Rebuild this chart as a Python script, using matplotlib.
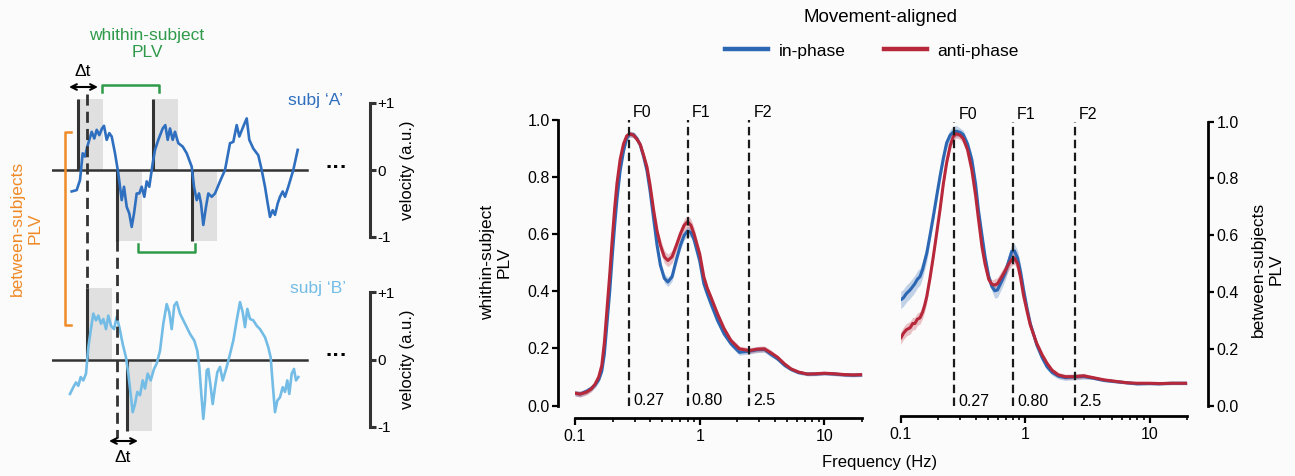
import numpy as np
import matplotlib
matplotlib.use('Agg')
import matplotlib.pyplot as plt
from matplotlib.patches import Rectangle
from matplotlib.lines import Line2D
from matplotlib.ticker import FixedLocator, NullFormatter

plt.rcParams['font.family'] = ['Liberation Sans', 'DejaVu Sans']

W, H, DPI = 1295, 476, 100

# ------------------------------------------------------------------ data
freq_within = [0.100, 0.110, 0.124, 0.135, 0.145, 0.155, 0.164, 0.172, 0.180, 0.190,
               0.198, 0.208, 0.217, 0.230, 0.245, 0.260, 0.275, 0.295, 0.315, 0.334,
               0.355, 0.378, 0.400, 0.428, 0.455, 0.484, 0.520, 0.555, 0.600, 0.650,
               0.700, 0.750, 0.800, 0.850, 0.900, 1.00, 1.08, 1.15, 1.23, 1.39,
               1.57, 1.78, 2.08, 2.50, 2.90, 3.30, 3.70, 4.20, 4.80, 5.40, 6.20,
               7.30, 8.50, 10.0, 12.0, 14.6, 17.0, 20.0]
within_anti = [0.043, 0.040, 0.047, 0.058, 0.075, 0.100, 0.140, 0.220, 0.330, 0.460,
               0.570, 0.690, 0.776, 0.860, 0.915, 0.943, 0.950, 0.945, 0.930, 0.912,
               0.875, 0.833, 0.770, 0.680, 0.610, 0.560, 0.520, 0.507, 0.520, 0.560,
               0.600, 0.630, 0.643, 0.630, 0.600, 0.530, 0.449, 0.410, 0.379, 0.320,
               0.268, 0.227, 0.198, 0.192, 0.197, 0.198, 0.185, 0.169, 0.145, 0.128, 0.117,
               0.110, 0.111, 0.113, 0.111, 0.108, 0.107, 0.108]
within_in = [0.043, 0.040, 0.050, 0.060, 0.072, 0.090, 0.120, 0.180, 0.280, 0.400,
             0.510, 0.630, 0.720, 0.820, 0.890, 0.935, 0.948, 0.947, 0.932, 0.910,
             0.870, 0.820, 0.750, 0.650, 0.560, 0.490, 0.445, 0.432, 0.450, 0.510,
             0.560, 0.595, 0.610, 0.605, 0.580, 0.505, 0.425, 0.390, 0.356, 0.297,
             0.250, 0.216, 0.186, 0.190, 0.195, 0.196, 0.180, 0.163, 0.140, 0.126, 0.115,
             0.110, 0.110, 0.112, 0.110, 0.107, 0.106, 0.107]
sem_within_anti = [0.010] * 25 + [0.022] * 10 + [0.010] * 12 + [0.006] * 11
sem_within_in = [0.010] * 25 + [0.016] * 10 + [0.010] * 12 + [0.006] * 11

freq_between = [0.100, 0.105, 0.111, 0.119, 0.125, 0.130, 0.136, 0.143, 0.150, 0.156,
                0.162, 0.172, 0.183, 0.195, 0.207, 0.220, 0.234, 0.250, 0.265, 0.280,
                0.300, 0.318, 0.345, 0.373, 0.400, 0.421, 0.450, 0.476, 0.510, 0.540,
                0.570, 0.600, 0.650, 0.690, 0.740, 0.780, 0.820, 0.870, 0.920, 0.970,
                1.04, 1.10, 1.24, 1.37, 1.50, 1.65, 1.85, 2.10, 2.45, 2.95,
                3.50, 4.30, 5.50, 6.50, 7.90, 10.0, 12.0, 15.0, 20.0]
between_in = [0.373, 0.380, 0.395, 0.408, 0.420, 0.430, 0.445, 0.455, 0.480, 0.510,
              0.537, 0.600, 0.667, 0.740, 0.807, 0.870, 0.925, 0.952, 0.963, 0.966,
              0.962, 0.954, 0.920, 0.866, 0.780, 0.690, 0.600, 0.526, 0.455, 0.420,
              0.405, 0.408, 0.440, 0.467, 0.510, 0.543, 0.545, 0.520, 0.470, 0.410,
              0.340, 0.290, 0.215, 0.170, 0.138, 0.118, 0.105, 0.100, 0.102, 0.104,
              0.098, 0.090, 0.085, 0.082, 0.078, 0.079, 0.078, 0.080, 0.080]
between_anti = [0.238, 0.255, 0.268, 0.275, 0.290, 0.290, 0.305, 0.310, 0.330, 0.355,
                0.385, 0.450, 0.526, 0.610, 0.690, 0.780, 0.855, 0.915, 0.948, 0.957,
                0.952, 0.940, 0.900, 0.830, 0.740, 0.660, 0.560, 0.500, 0.445, 0.428,
                0.425, 0.430, 0.455, 0.475, 0.500, 0.515, 0.520, 0.500, 0.450, 0.390,
                0.330, 0.285, 0.220, 0.180, 0.150, 0.125, 0.109, 0.103, 0.103, 0.106,
                0.100, 0.092, 0.086, 0.082, 0.080, 0.080, 0.079, 0.080, 0.080]
sem_between_in = [0.030] * 11 + [0.020] * 9 + [0.015] * 10 + [0.026] * 10 + [0.010] * 10 + [0.005] * 9
sem_between_anti = [0.022] * 11 + [0.015] * 9 + [0.015] * 10 + [0.022] * 10 + [0.009] * 10 + [0.005] * 9

marker_hz = [0.27, 0.80, 2.5]
marker_names = ['F0', 'F1', 'F2']
marker_values = ['0.27', '0.80', '2.5']

y_ticks = [0.0, 0.2, 0.4, 0.6, 0.8, 1.0]
x_major = [0.1, 1, 10]
x_major_labels = ['0.1', '1', '10']
x_minor = [0.2, 0.3, 0.4, 0.5, 0.6, 0.7, 0.8, 0.9, 2, 3, 4, 5, 6, 7, 8, 9, 20]

# schematic velocity traces (arbitrary time units, normalised velocity)
tA = [71.7, 76.7, 80.0, 82.7, 85.0, 87.3, 91.7, 94.3, 96.7, 99.3, 102.0, 104.0, 106.7,
      109.3, 111.7, 115.0, 118.3, 121.7, 124.0, 126.7, 129.3, 131.7, 134.0, 136.7, 139.3,
      141.7, 144.3, 146.7, 149.3, 152.7, 155.0, 158.3, 162.7, 165.3, 167.7, 170.0, 172.7,
      175.0, 178.3, 182.7, 186.7, 191.7, 194.0, 196.7, 199.0, 201.0, 203.3, 206.0, 208.3,
      211.7, 215.0, 220.0, 225.0, 230.0, 233.3, 236.7, 239.3, 243.3, 246.7, 249.3, 253.3,
      258.3, 261.7, 265.0, 267.7, 270.0, 272.7, 275.0, 277.7, 280.0, 282.7, 285.0, 288.3,
      293.3, 297.7]
vA = [-0.32, -0.30, -0.15, 0.25, 0.20, 0.35, 0.57, 0.47, 0.60, 0.52, 0.62, 0.66, 0.45,
      0.55, 0.50, 0.25, -0.05, -0.45, -0.25, -0.55, -0.65, -0.85, -0.65, -0.35, -0.35,
      -0.25, -0.40, -0.17, -0.25, 0.10, 0.30, 0.45, 0.62, 0.67, 0.45, 0.62, 0.45,
      0.57, 0.40, 0.35, 0.25, 0.05, -0.25, -0.45, -0.35, -0.50, -0.82, -0.55, -0.35,
      -0.40, -0.35, -0.17, 0.00, 0.40, 0.42, 0.67, 0.50, 0.65, 0.77, 0.45, 0.32,
      0.22, 0.00, -0.25, -0.50, -0.70, -0.60, -0.67, -0.50, -0.40, -0.32, -0.40, -0.25,
      0.00, 0.30]
tB = [70.0, 73.3, 76.0, 78.3, 80.7, 83.3, 86.0, 88.3, 90.7, 93.3, 96.0, 98.3, 101.0,
      103.3, 106.0, 108.3, 111.0, 114.0, 116.7, 119.3, 122.7, 126.0, 128.3, 131.0, 132.7,
      135.0, 137.3, 140.0, 142.7, 145.0, 147.7, 150.7, 154.0, 156.7, 160.0, 163.3, 166.7,
      169.3, 171.7, 174.3, 176.7, 180.0, 185.0, 190.0, 194.3, 197.3, 199.3, 201.3, 203.3,
      205.0, 206.7, 208.3, 210.7, 212.7, 215.0, 217.3, 220.0, 222.7, 226.7, 230.0, 233.3,
      236.7, 240.0, 242.7, 245.0, 247.3, 250.0, 253.3, 256.7, 260.0, 265.0, 268.3, 270.7,
      272.7, 275.0, 277.3, 280.0, 282.7, 285.0, 287.3, 289.3, 291.7, 294.0, 296.0, 298.3]
vB = [-0.51, -0.41, -0.34, -0.39, -0.26, -0.31, -0.21, 0.18, 0.43, 0.68, 0.58, 0.65, 0.53,
      0.60, 0.45, 0.65, 0.50, 0.45, 0.63, 0.48, 0.23, 0.03, -0.21, -0.56, -0.78,
      -0.66, -0.48, -0.53, -0.31, -0.43, -0.21, -0.31, -0.14, -0.06, 0.13, 0.53, 0.82,
      0.70, 0.45, 0.80, 0.85, 0.68, 0.53, 0.38, 0.28, 0.13, -0.11, -0.51, -0.88,
      -0.61, -0.16, -0.14, -0.41, -0.66, -0.41, -0.19, -0.11, -0.31, -0.11, 0.08, 0.28,
      0.58, 0.85, 0.70, 0.48, 0.75, 0.60, 0.58, 0.50, 0.45, 0.33, 0.18, 0.03,
      -0.36, -0.78, -0.61, -0.56, -0.41, -0.48, -0.31, -0.51, -0.21, -0.14, -0.31, -0.26]

epochs_A = [78.3, 116.7, 153.3, 191.7]
signs_A = [1, -1, 1, -1]
epochs_B = [87.3, 127.0]
signs_B = [1, -1]
epoch_len = 25.0
epoch_height = 1.06
baseline_t = [52, 307]

# ------------------------------------------------------------------ style
C_IN = '#2b67b3'
C_ANTI = '#b7283b'
C_A = '#2f6fbf'
C_B = '#72bce6'
C_GREEN = '#2f9a49'
C_ORANGE = '#ef8a27'
BG = '#fbfbfb'

fig = plt.figure(figsize=(W / DPI, H / DPI), dpi=DPI, facecolor=BG)


def rect(x0, y_top, x1, y_bot):
    return [x0 / W, 1 - y_bot / H, (x1 - x0) / W, (y_bot - y_top) / H]


def px2pt(p):
    return p * 72.0 / DPI


def style_spec(ax, side, yoff_px, xoff_px):
    ax.set_xscale('log')
    ax.set_xlim(0.1, 20)
    ax.set_ylim(0, 1)
    ax.patch.set_alpha(0)
    other = 'right' if side == 'left' else 'left'
    ax.spines['top'].set_visible(False)
    ax.spines[other].set_visible(False)
    ax.spines[side].set_position(('outward', px2pt(yoff_px)))
    ax.spines['bottom'].set_position(('outward', px2pt(xoff_px)))
    ax.spines[side].set_bounds(0, 1)
    ax.spines['bottom'].set_bounds(0.1, 20)
    for s in (side, 'bottom'):
        ax.spines[s].set_linewidth(2.0)
    ax.xaxis.set_major_locator(FixedLocator(x_major))
    ax.set_xticklabels(x_major_labels)
    ax.xaxis.set_minor_locator(FixedLocator(x_minor))
    ax.xaxis.set_minor_formatter(NullFormatter())
    ax.set_yticks(y_ticks)
    ax.set_yticklabels(['%.1f' % v for v in y_ticks])
    if side == 'right':
        ax.yaxis.tick_right()
        ax.yaxis.set_label_position('right')
    ax.tick_params(axis='x', which='major', length=5, width=1.6, labelsize=11.5, pad=3)
    ax.tick_params(axis='x', which='minor', length=3, width=1.2)
    ax.tick_params(axis='y', length=4, width=1.6, labelsize=11.5, pad=2)


def draw_spec(ax, f, v_in, v_anti, s_in, s_anti):
    f = np.asarray(f)
    for v, s, c in ((v_in, s_in, C_IN), (v_anti, s_anti, C_ANTI)):
        v = np.asarray(v)
        s = np.asarray(s)
        ax.fill_between(f, v - s, v + s, color=c, alpha=0.28, lw=0, zorder=2)
        ax.plot(f, v, color=c, lw=2.2, zorder=3, solid_capstyle='round')
    for hz, nm, val in zip(marker_hz, marker_names, marker_values):
        ax.axvline(hz, ymin=0, ymax=1, color='#1a1a1a', lw=1.6,
                   ls=(0, (3.8, 2.0)), zorder=4)
        ax.annotate(nm, xy=(hz, 1.0), xytext=(3, 5), textcoords='offset points',
                    ha='left', va='center', fontsize=11.5, annotation_clip=False)
        ax.annotate(val, xy=(hz, 0.0), xytext=(3, 3.5), textcoords='offset points',
                    ha='left', va='center', fontsize=11.5, annotation_clip=False)


ax1 = fig.add_axes(rect(575, 119.5, 862, 405.5))
style_spec(ax1, 'left', 17, 12)
draw_spec(ax1, freq_within, within_in, within_anti, sem_within_in, sem_within_anti)
ax1.set_ylabel('whithin-subject\nPLV', fontsize=12.5, linespacing=1.15)
ax1.yaxis.set_label_coords(-0.22, 0.5)

ax2 = fig.add_axes(rect(900.7, 121.5, 1187, 406))
style_spec(ax2, 'right', 21, 10)
draw_spec(ax2, freq_between, between_in, between_anti, sem_between_in, sem_between_anti)
ax2.set_ylabel('between-subjects\nPLV', fontsize=12.5, linespacing=1.15)
ax2.yaxis.set_label_coords(1.225, 0.48)

fig.text(880 / W, 1 - 463 / H, 'Frequency (Hz)', ha='center', va='center', fontsize=12)
fig.text(881 / W, 1 - 17 / H, 'Movement-aligned', ha='center', va='center', fontsize=13.5)
handles = [Line2D([], [], color=C_IN, lw=3.2), Line2D([], [], color=C_ANTI, lw=3.2)]
fig.legend(handles, ['in-phase', 'anti-phase'], ncol=2, frameon=False, loc='center',
           bbox_to_anchor=(872 / W, 1 - 51 / H), fontsize=12.5, handlelength=2.5,
           handletextpad=0.6, columnspacing=2.2)


# ------------------------------------------------------------------ schematic
def schematic(ax, t, v, color, epochs, signs):
    ax.set_xlim(52, 370)
    ax.set_ylim(-1, 1)
    ax.patch.set_alpha(0)
    for s in ('top', 'left', 'bottom'):
        ax.spines[s].set_visible(False)
    ax.spines['right'].set_linewidth(2.2)
    ax.spines['right'].set_color('#333333')
    ax.set_xticks([])
    ax.yaxis.tick_right()
    ax.yaxis.set_label_position('right')
    ax.set_yticks([-1, 0, 1])
    ax.set_yticklabels(['-1', '0', '+1'])
    ax.tick_params(axis='y', length=4, width=2.2, color='#333333', labelsize=11, pad=1)
    ax.set_ylabel('velocity (a.u.)', fontsize=12)
    ax.yaxis.set_label_coords(1.095, 0.5)
    for e, sgn in zip(epochs, signs):
        y0 = 0 if sgn > 0 else -epoch_height
        ax.add_patch(Rectangle((e, y0), epoch_len, epoch_height, facecolor='#e0e0e0',
                               edgecolor='none', zorder=1, clip_on=False))
        ax.plot([e, e], [0, sgn * epoch_height], color='#333333', lw=2.2, zorder=3,
                clip_on=False, solid_capstyle='butt')
    ax.plot(baseline_t, [0, 0], color='#333333', lw=1.8, zorder=2)
    ax.plot(t, v, color=color, lw=1.9, zorder=4, clip_on=False, solid_joinstyle='round')


axA = fig.add_axes(rect(52, 103, 370, 237))
schematic(axA, tA, vA, C_A, epochs_A, signs_A)
axB = fig.add_axes(rect(52, 292, 370, 427))
schematic(axB, tB, vB, C_B, epochs_B, signs_B)

ov = fig.add_axes([0, 0, 1, 1], zorder=10)
ov.set_xlim(0, W)
ov.set_ylim(H, 0)
ov.axis('off')
ov.patch.set_alpha(0)

# synchronisation dashed lines
ov.plot([87, 87], [94, 288], color='#333333', lw=2.0, ls=(0, (4, 2.2)))
ov.plot([116.7, 116.7], [240, 438], color='#333333', lw=2.0, ls=(0, (4, 2.2)))
# delta-t arrows
ov.annotate('', xy=(69, 87), xytext=(98, 87),
            arrowprops=dict(arrowstyle='<->', lw=1.5, color='k', shrinkA=0, shrinkB=0,
                            mutation_scale=10))
ov.annotate('', xy=(109, 441), xytext=(138, 441),
            arrowprops=dict(arrowstyle='<->', lw=1.5, color='k', shrinkA=0, shrinkB=0,
                            mutation_scale=10))
ov.text(83, 72, 'Δt', ha='center', va='center', fontsize=12.5)
ov.text(123, 457, 'Δt', ha='center', va='center', fontsize=12.5)
# within-subject brackets
ov.plot([101.7, 101.7, 159, 159], [92, 85, 85, 92], color=C_GREEN, lw=1.8)
ov.plot([138.3, 138.3, 195, 195], [244, 251.5, 251.5, 244], color=C_GREEN, lw=1.8)
ov.text(147, 44, 'whithin-subject\nPLV', color=C_GREEN, ha='center', va='center',
        fontsize=12.5, linespacing=1.2)
# between-subjects bracket
ov.plot([71, 65, 65, 71], [132, 132, 325, 325], color=C_ORANGE, lw=1.8)
ov.text(26, 228, 'between-subjects\nPLV', color=C_ORANGE, ha='center', va='center',
        rotation=90, fontsize=12.5, linespacing=1.2)
# subject labels and ellipses
ov.text(343, 100, 'subj ‘A’', color=C_A, ha='right', va='center', fontsize=12.5)
ov.text(346, 288, 'subj ‘B’', color=C_B, ha='right', va='center', fontsize=12.5)
ov.text(337, 168, '···', ha='center', va='center', fontsize=16, fontweight='bold')
ov.text(337, 356, '···', ha='center', va='center', fontsize=16, fontweight='bold')

fig.savefig('out.png', dpi=DPI, facecolor=BG)
